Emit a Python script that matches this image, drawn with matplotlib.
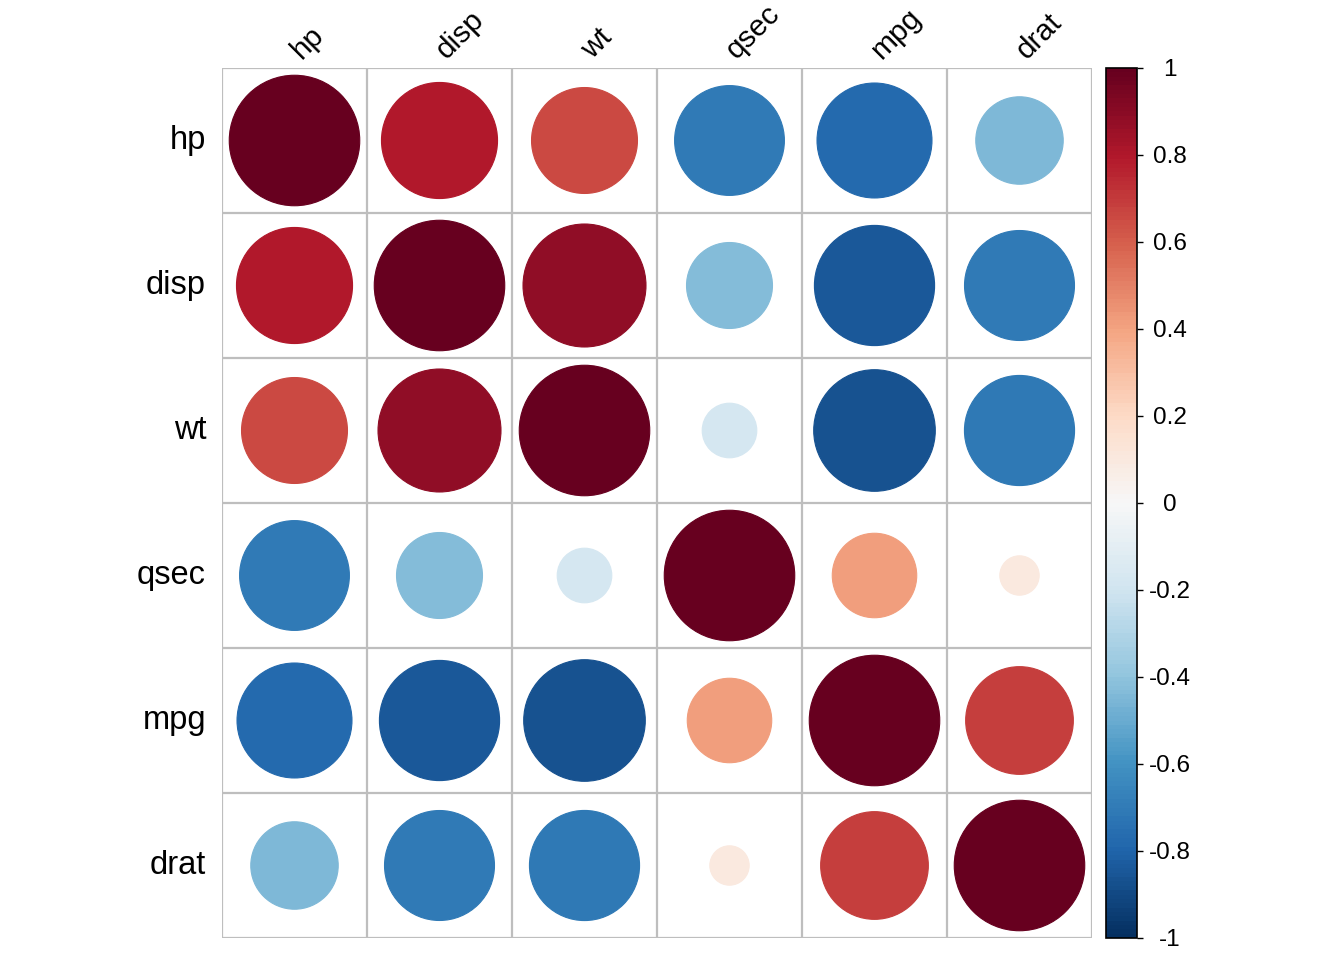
import numpy as np
import matplotlib
matplotlib.use("Agg")
import matplotlib.pyplot as plt
import matplotlib.cm as cm
from matplotlib.patches import Circle
from matplotlib.colors import ListedColormap, BoundaryNorm
from matplotlib.transforms import blended_transform_factory, offset_copy

plt.rcParams['font.family'] = ['Liberation Sans', 'DejaVu Sans']

variables = ["hp", "disp", "wt", "qsec", "mpg", "drat"]
corr = np.array([
    [1.000, 0.791, 0.659, -0.708, -0.776, -0.449],
    [0.791, 1.000, 0.888, -0.434, -0.848, -0.710],
    [0.659, 0.888, 1.000, -0.175, -0.868, -0.712],
    [-0.708, -0.434, -0.175, 1.000, 0.419, 0.091],
    [-0.776, -0.848, -0.868, 0.419, 1.000, 0.681],
    [-0.449, -0.710, -0.712, 0.091, 0.681, 1.000],
])
cbar_ticks = [-1, -0.8, -0.6, -0.4, -0.2, 0, 0.2, 0.4, 0.6, 0.8, 1]
cbar_labels = ["-1", "-0.8", "-0.6", "-0.4", "-0.2", "0", "0.2", "0.4", "0.6", "0.8", "1"]

base = plt.get_cmap('RdBu_r')
ncol = 200
cmap = ListedColormap(base(np.linspace(0, 1, ncol)))
norm = BoundaryNorm(np.linspace(-1, 1, ncol + 1), ncol)

W, H = 1344, 960
fig = plt.figure(figsize=(W / 100, H / 100), dpi=100)
n = len(variables)
ax = fig.add_axes([222 / W, 1 - 938 / H, 870 / W, 870 / H])
ax.set_xlim(0, n)
ax.set_ylim(n, 0)
ax.set_axis_off()

grid_color = '#BEBEBE'
for k in range(n + 1):
    ax.plot([k, k], [0, n], color=grid_color, lw=1.6, solid_capstyle='projecting', zorder=1)
    ax.plot([0, n], [k, k], color=grid_color, lw=1.6, solid_capstyle='projecting', zorder=1)

for i in range(n):
    for j in range(n):
        r = corr[i, j]
        rad = 0.9 * np.sqrt(abs(r)) / 2
        col = cmap(norm(r))
        ax.add_patch(Circle((j + 0.5, i + 0.5), rad, facecolor=col, edgecolor=col,
                            lw=0.8, zorder=2))

for i, v in enumerate(variables):
    ax.text(-0.11, i + 0.5, v, ha='right', va='center', fontsize=23.5, color='black')
    ax.text(i + 0.58, -0.025, v, ha='left', va='bottom', rotation=45,
            rotation_mode='anchor', fontsize=21.5, color='black')

cax = fig.add_axes([1106 / W, 1 - 938 / H, 31 / W, 870 / H])
sm = cm.ScalarMappable(norm=norm, cmap=cmap)
cb = fig.colorbar(sm, cax=cax, orientation='vertical')
cb.set_ticks(cbar_ticks)
cb.set_ticklabels([""] * len(cbar_ticks))
cb.outline.set_edgecolor('black')
cb.outline.set_linewidth(1.2)
cax.tick_params(axis='y', length=4.5, width=1, direction='out', pad=0)
cax.minorticks_off()
tr = offset_copy(blended_transform_factory(cax.transAxes, cax.transData),
                 fig=fig, x=0, y=-2, units='dots')
for t, lab in zip(cbar_ticks, cbar_labels):
    cax.text((1170 - 1106) / 31, t, lab, transform=tr, ha='center', va='center',
             fontsize=17.5, color='black')

fig.savefig("out.png", dpi=100, facecolor='white')
